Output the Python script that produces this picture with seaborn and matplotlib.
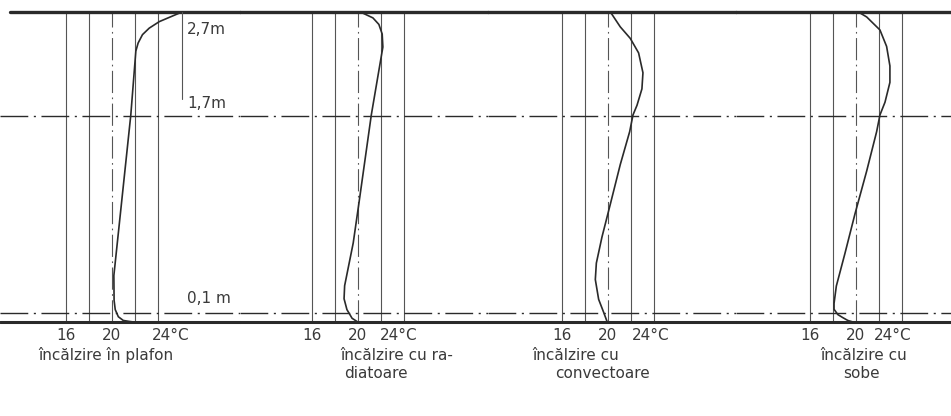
import numpy as np
import pandas as pd
import matplotlib
matplotlib.use("Agg")
import matplotlib.pyplot as plt
import seaborn as sns

# Vertical temperature profiles for four heating systems.
# h = height in the drawing (0 = floor line, 1 = ceiling line), temp in deg C
ceiling_temp = [21.9, 21.5, 21.0, 20.57, 20.3, 20.2, 20.18, 21.66, 22.1, 22.3, 22.68, 23.27, 24.15, 25.17, 26.0]
ceiling_h = [0.0, 0.002, 0.005, 0.017, 0.04, 0.07, 0.15, 0.668, 0.874, 0.900, 0.927, 0.948, 0.969, 0.985, 0.998]

radiator_temp = [20.0, 19.5, 19.05, 18.8, 18.85, 19.6, 20.09, 21.18, 22.19, 22.13, 21.84, 21.32, 20.46, 20.35]
radiator_h = [0.0, 0.012, 0.04, 0.075, 0.117, 0.255, 0.381, 0.668, 0.887, 0.929, 0.960, 0.981, 0.996, 1.0]

convector_temp = [19.95, 19.64, 19.2, 18.91, 19.0, 19.49, 20.22, 21.09, 21.91, 22.2, 22.55, 22.98, 23.07, 22.69, 21.96, 21.09, 20.28, 20.25]
convector_h = [0.0, 0.031, 0.073, 0.137, 0.19, 0.274, 0.38, 0.508, 0.614, 0.668, 0.699, 0.752, 0.804, 0.868, 0.915, 0.952, 0.997, 1.0]

stove_temp = [19.75, 19.3, 18.87, 18.43, 18.1, 18.1, 18.3, 19.05, 19.93, 20.95, 21.82, 22.11, 22.55, 22.98, 22.98, 22.69, 22.11, 20.95, 20.36, 20.25]
stove_h = [0.0, 0.005, 0.014, 0.024, 0.041, 0.06, 0.116, 0.221, 0.349, 0.487, 0.614, 0.668, 0.709, 0.773, 0.826, 0.889, 0.942, 0.984, 0.997, 1.0]

panels = ["ceiling", "radiator", "convector", "stove"]
captions_1 = ["încălzire în plafon", "încălzire cu ra-", "încălzire cu", "încălzire cu"]
captions_2 = ["", "diatoare", "convectoare", "sobe"]

grid_temps = [16, 18, 22, 24]
ref_temp = 20
tick_temps = [16, 20, 24]
tick_labels = ["16", "20", "24°C"]

level_h = [0.03, 0.665, 1.0]
level_labels = ["0,1 m", "1,7m", "2,7m"]

frames = []
for name, t, h in [("ceiling", ceiling_temp, ceiling_h),
                   ("radiator", radiator_temp, radiator_h),
                   ("convector", convector_temp, convector_h),
                   ("stove", stove_temp, stove_h)]:
    frames.append(pd.DataFrame({"panel": name, "temp": t, "h": h}))
df = pd.concat(frames, ignore_index=True)

sns.set_theme(style="white")
plt.rcParams["font.family"] = ["DejaVu Sans"]

W, H = 951, 416
fig = plt.figure(figsize=(W / 100, H / 100), dpi=100)

# layout in pixels
panel_left = [0, 240, 488, 736]
panel_right = [240, 488, 736, 951]
x16_px = [66, 312, 562, 810]
px_per_deg = 11.45
top_px, bottom_px = 12, 322
label_24_left = [23.5, 21.9, 22.1, 21.6]
cap1_x = [19.5, 23.4, 17.2, 20.7]
cap2_x = [19.5, 21.6, 19.5, 20.5]

ink = "#2a2a2a"
text_col = "#3a3a3a"
dashdot = (0, (20, 4, 1.5, 4))

for i, name in enumerate(panels):
    l, r = panel_left[i], panel_right[i]
    ax = fig.add_axes([l / W, (H - bottom_px) / H, (r - l) / W, (bottom_px - top_px) / H])
    ax.set_xlim(16 + (l - x16_px[i]) / px_per_deg, 16 + (r - x16_px[i]) / px_per_deg)
    ax.set_ylim(0, 1)
    ax.axis("off")

    for t in grid_temps:
        ax.axvline(t, color="#555555", lw=0.8)
    ax.axvline(ref_temp, color="#555555", lw=0.8, linestyle=dashdot)

    xmin = 10 / (r - l) if i == 0 else 0
    ax.axhline(1.0, xmin=xmin, color=ink, lw=2.4, clip_on=False)
    ax.axhline(0.0, color=ink, lw=2.2, clip_on=False)
    for lh in level_h[:2]:
        ax.axhline(lh, color=ink, lw=1.0, linestyle=dashdot)

    sns.lineplot(data=df[df["panel"] == name], x="temp", y="h", sort=False,
                 estimator=None, color=ink, lw=1.2, ax=ax, legend=False)
    ax.set_xlabel("")
    ax.set_ylabel("")

    # temperature labels under the floor line
    ax.text(tick_temps[0], -0.045, tick_labels[0], ha="center", va="center",
            fontsize=11, color=text_col, clip_on=False)
    ax.text(tick_temps[1], -0.045, tick_labels[1], ha="center", va="center",
            fontsize=11, color=text_col, clip_on=False)
    ax.text(label_24_left[i], -0.045, tick_labels[2], ha="left", va="center",
            fontsize=11, color=text_col, clip_on=False)
    ax.text(cap1_x[i], -0.108, captions_1[i], ha="center", va="center",
            fontsize=11, color=text_col, clip_on=False)
    if captions_2[i]:
        ax.text(cap2_x[i], -0.167, captions_2[i], ha="center", va="center",
                fontsize=11, color=text_col, clip_on=False)

    if i == 0:
        # height marks
        ax.plot([26.15, 26.15], [1.0, 0.72], color="#555555", lw=0.8)
        ax.text(26.6, 0.945, level_labels[2], ha="left", va="center", fontsize=11, color=text_col)
        ax.text(26.6, 0.706, level_labels[1], ha="left", va="center", fontsize=11, color=text_col)
        ax.text(26.6, 0.075, level_labels[0], ha="left", va="center", fontsize=11, color=text_col)

fig.savefig("out.png", dpi=100, facecolor="white")
